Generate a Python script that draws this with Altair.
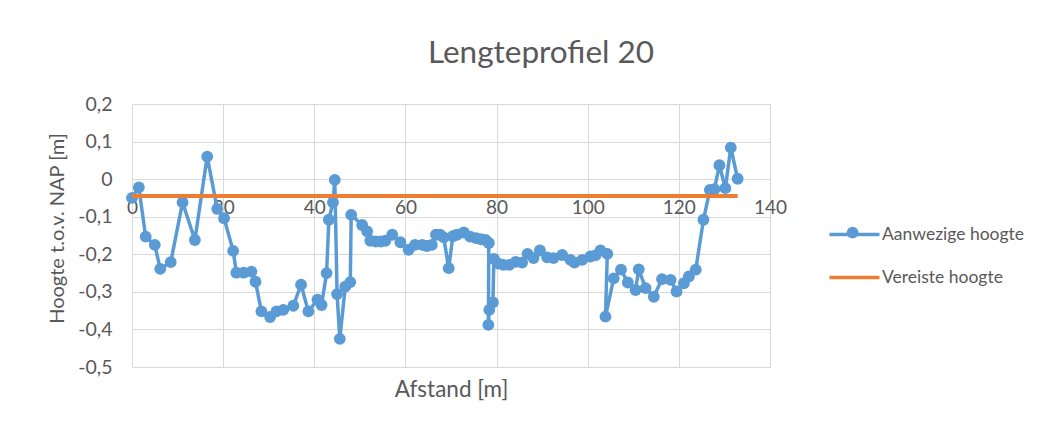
import altair as alt
import pandas as pd

# Aanwezige hoogte (measured)
afstand = [0, 1.5, 3, 5, 6.2, 8.5, 11.1, 13.8, 16.5, 18.7, 20.2, 22.2, 22.9, 24.5, 26.2, 27.1,
           28.4, 30.3, 31.7, 33.2, 35.4, 37.1, 38.7, 40.7, 41.6, 42.7, 43.2, 44.1, 44.5, 45.0,
           45.6, 46.8, 47.9, 48.1, 50.5, 51.6, 52.3, 53.5, 54.6, 55.6, 57.1, 58.9, 60.7, 62.1,
           63.7, 64.7, 65.8, 66.7, 67.6, 68.4, 69.5, 70.4, 71.3, 72.8, 74.2, 75.5, 76.6, 77.6,
           78.3, 78.2, 78.4, 79.2, 79.4, 80.4, 81.5, 82.8, 84.2, 85.6, 86.8, 88.1, 89.5, 91.1,
           92.5, 94.4, 96.2, 97.1, 98.8, 100.6, 101.7, 102.8, 104.3, 103.9, 105.7, 107.3, 108.8,
           110.5, 111.2, 112.7, 114.5, 116.3, 118.2, 119.5, 121.1, 122.2, 123.7, 125.4, 126.8,
           127.8, 128.9, 130.2, 131.4, 132.9]
hoogte = [-0.05, -0.022, -0.153, -0.175, -0.239, -0.221, -0.062, -0.162, 0.06, -0.079, -0.104,
          -0.191, -0.249, -0.249, -0.246, -0.273, -0.352, -0.367, -0.352, -0.348, -0.337, -0.281,
          -0.352, -0.321, -0.335, -0.25, -0.108, -0.062, -0.002, -0.306, -0.425, -0.286, -0.274,
          -0.095, -0.122, -0.139, -0.164, -0.166, -0.166, -0.164, -0.148, -0.168, -0.188, -0.175,
          -0.175, -0.178, -0.175, -0.148, -0.148, -0.155, -0.237, -0.152, -0.148, -0.142, -0.153,
          -0.157, -0.16, -0.162, -0.17, -0.388, -0.348, -0.328, -0.212, -0.225, -0.228, -0.228,
          -0.22, -0.222, -0.199, -0.21, -0.19, -0.208, -0.21, -0.202, -0.215, -0.222, -0.215,
          -0.206, -0.203, -0.19, -0.199, -0.366, -0.264, -0.241, -0.275, -0.295, -0.24, -0.29,
          -0.313, -0.266, -0.268, -0.299, -0.277, -0.259, -0.241, -0.108, -0.029, -0.027, 0.037,
          -0.024, 0.084, 0.001]

# Vereiste hoogte (required)
vereist_afstand = [0, 132.9]
vereist_hoogte = [-0.045, -0.045]

series_names = ["Aanwezige hoogte", "Vereiste hoogte"]
series_colors = ["#5B9BD5", "#ED7D31"]
x_ticks = [0, 20, 40, 60, 80, 100, 120, 140]
y_ticks = [-0.5, -0.4, -0.3, -0.2, -0.1, 0, 0.1, 0.2]

df_a = pd.DataFrame({"afstand": afstand, "hoogte": hoogte,
                     "i": list(range(len(afstand))), "serie": series_names[0]})
df_v = pd.DataFrame({"afstand": vereist_afstand, "hoogte": vereist_hoogte,
                     "i": list(range(len(vereist_afstand))), "serie": series_names[1]})

FONT = "Lato"
GREY = "#595959"
GRID = "#d9d9d9"

LEG_X, LEG_Y = 708, 116

color = alt.Color(
    "serie:N",
    scale=alt.Scale(domain=series_names, range=series_colors),
    legend=alt.Legend(
        orient="none", legendX=LEG_X, legendY=LEG_Y, title=None, padding=0,
        symbolType="M-2,0H2", symbolSize=625, symbolStrokeWidth=3.5,
        labelFont=FONT, labelFontSize=17.5, labelColor=GREY, labelOffset=13,
        rowPadding=20,
    ),
)
shape = alt.Shape(
    "serie:N",
    scale=alt.Scale(domain=[series_names[0]], range=["circle"]),
    legend=alt.Legend(
        orient="none", legendX=LEG_X + 6.6, legendY=LEG_Y + 6.6, title=None, padding=0,
        symbolSize=140, symbolFillColor=series_colors[0], symbolStrokeColor=series_colors[0],
        symbolStrokeWidth=0, symbolOpacity=1,
        labelFontSize=1, labelOpacity=0,
    ),
)

x = alt.X(
    "afstand:Q",
    scale=alt.Scale(domain=[0, 140], nice=False, zero=False),
    axis=alt.Axis(
        values=x_ticks, offset=-188, domain=False, ticks=False, labelFlush=False,
        labelFont=FONT, labelFontSize=19, labelColor=GREY, labelPadding=19,
        grid=True, gridColor=GRID, gridWidth=1,
        title="Afstand [m]", titleFont=FONT, titleFontSize=22.5, titleFontWeight="normal",
        titleColor=GREY, titleY=210, titleBaseline="middle",
    ),
)
y = alt.Y(
    "hoogte:Q",
    scale=alt.Scale(domain=[-0.5, 0.2], nice=False, zero=False),
    axis=alt.Axis(
        values=y_ticks, domain=False, ticks=False,
        labelExpr="datum.value == 0 ? '0' : (datum.value < 0 ? '-' : '') + replace(format(abs(datum.value), '.1f'), '.', ',')",
        labelFont=FONT, labelFontSize=19.5, labelColor=GREY, labelPadding=20,
        grid=True, gridColor=GRID, gridWidth=1,
        title="Hoogte t.o.v. NAP [m]", titleFont=FONT, titleFontSize=20, titleFontWeight="normal",
        titleColor=GREY, titleX=-75, titleY=124, titleAngle=270, titleAlign="center",
        titleBaseline="middle",
    ),
)

blue_line = alt.Chart(df_a).mark_line(strokeWidth=3.5).encode(
    x=x, y=y, color=color, order=alt.Order("i:Q"))
blue_pts = alt.Chart(df_a).mark_point(filled=True, size=140, opacity=1).encode(
    x=x, y=y, shape=shape, color=alt.value(series_colors[0]))
orange = alt.Chart(df_v).mark_line(strokeWidth=4).encode(
    x=x, y=y, color=color, order=alt.Order("i:Q"))

chart = alt.layer(blue_line, blue_pts, orange).properties(
    width=638, height=263,
    autosize=alt.AutoSizeParams(type="none"),
    padding={"left": 124, "top": 96, "right": 282, "bottom": 51},
    title=alt.TitleParams("Lengteprofiel 20", font=FONT, fontSize=31.5, fontWeight="normal",
                          color=GREY, anchor="middle", dx=90, offset=25),
).configure_view(stroke=None).configure(background="white")

chart.save("out.html", embed_options={"renderer": "svg", "actions": False})
